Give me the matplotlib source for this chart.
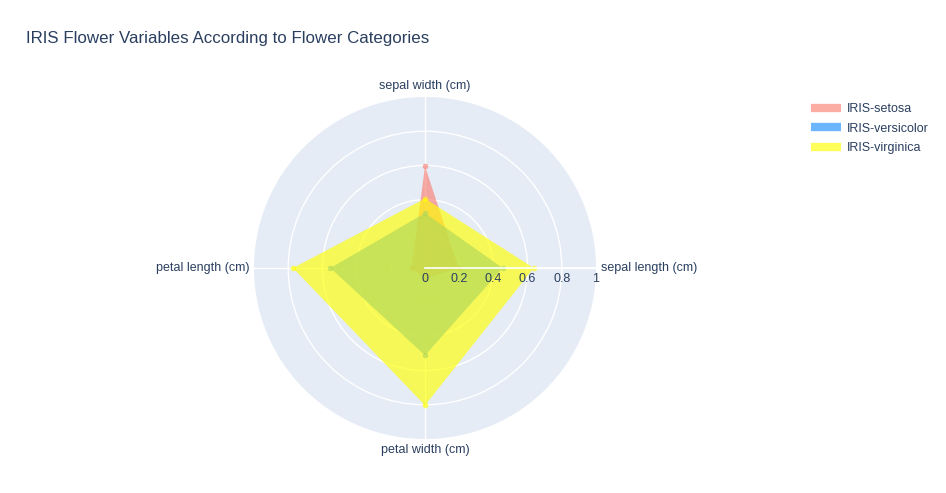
import matplotlib
matplotlib.use('Agg')
import matplotlib.pyplot as plt
import numpy as np
from matplotlib.transforms import offset_copy
from matplotlib.lines import Line2D

plt.rcParams['font.family'] = ['Liberation Sans', 'DejaVu Sans']

title = 'IRIS Flower Variables According to Flower Categories'
categories = ['sepal length (cm)', 'sepal width (cm)', 'petal length (cm)', 'petal width (cm)']
species = ['IRIS-setosa', 'IRIS-versicolor', 'IRIS-virginica']
setosa = [0.196, 0.595, 0.078, 0.061]
versicolor = [0.454, 0.321, 0.553, 0.511]
virginica = [0.636, 0.406, 0.772, 0.803]
radial_ticks = [0, 0.2, 0.4, 0.6, 0.8, 1]
radial_labels = ['0', '0.2', '0.4', '0.6', '0.8', '1']
colors = ['salmon', 'dodgerblue', 'yellow']
ALPHA = 0.65
TXT = '#2a3f5f'

W, H = 946, 493
fig = plt.figure(figsize=(W / 100, H / 100), dpi=100)
cx, cy, R = 425, 268, 171
ax = fig.add_axes([(cx - R) / W, (H - cy - R) / H, 2 * R / W, 2 * R / H], projection='polar')
ax.set_facecolor('#E5ECF6')
ax.spines['polar'].set_visible(False)
angles = np.arange(len(categories)) * 2 * np.pi / len(categories)
ax.set_xticks(angles)
ax.set_xticklabels([])
ax.set_yticks([0.2, 0.4, 0.6, 0.8])
ax.set_yticklabels([])
ax.set_ylim(0, 1)
ax.set_axisbelow(True)
ax.grid(color='white', lw=1)
ax.tick_params(length=0)

for vals, col in zip([setosa, versicolor, virginica], colors):
    th = np.append(angles, angles[0])
    r = np.append(vals, vals[0])
    ax.fill(th, r, color=col, alpha=ALPHA, lw=0, zorder=2)
    ax.plot(angles, vals, 'o', ms=4, color=col, alpha=ALPHA, mec='none', zorder=2)

# radial axis line above traces
ax.plot([0, 0], [0, 1], color='white', lw=1.2, zorder=5)

for r, lab in zip(radial_ticks, radial_labels):
    ax.text(0, r, lab, transform=offset_copy(ax.transData, fig=fig, y=-5, units='dots'),
            ha='center', va='top', fontsize=9, color=TXT, zorder=6)

offs = [(5, 0, 'left', 'center'), (0, 5, 'center', 'bottom'),
        (-5, 0, 'right', 'center'), (0, -5, 'center', 'top')]
for a, cat, (dx, dy, ha, va) in zip(angles, categories, offs):
    ax.text(a, 1, cat, transform=offset_copy(ax.transData, fig=fig, x=dx, y=dy, units='dots'),
            ha=ha, va=va, fontsize=9, color=TXT, clip_on=False)

fig.text(26 / W, 1 - 39 / H, title, fontsize=12.2, color=TXT, va='center', ha='left')

handles = [Line2D([], [], color=c, alpha=ALPHA, lw=6, solid_capstyle='butt') for c in colors]
fig.legend(handles, species, loc='upper left', bbox_to_anchor=(811 / W, 1 - 103 / H),
           frameon=False, fontsize=9, handlelength=2.4, handletextpad=0.5,
           labelspacing=0.6, labelcolor=TXT, borderaxespad=0, borderpad=0)

fig.savefig('out.png', dpi=100)
